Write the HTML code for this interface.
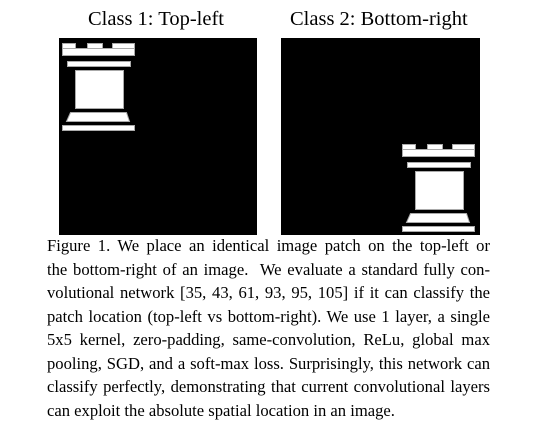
<!DOCTYPE html>
<html><head><meta charset="utf-8"><style>
body{margin:0;width:534px;height:443px;background:#fff;position:relative;overflow:hidden;font-family:"Liberation Serif",serif;color:#000}
.t{position:absolute;top:8px;font-size:20.5px;white-space:nowrap}
.cap{position:absolute;left:47px;top:234px;width:443px;font-size:16.6px;line-height:23.5px}
.ln{display:block;text-align:justify;text-align-last:justify;white-space:nowrap;height:23.5px}
.ln.last{text-align-last:left}
</style></head><body>
<div class="t" style="left:88px">Class 1: Top-left</div>
<div class="t" style="left:290px">Class 2: Bottom-right</div>
<svg width="534" height="240" style="position:absolute;left:0;top:0">
<defs><g id="rook" fill="#fff" stroke="#aaa" stroke-width="1">
<rect x="0.5" y="0.5" width="13" height="6"/><rect x="25.5" y="0.5" width="15" height="6"/><rect x="50.5" y="0.5" width="22" height="6"/>
<rect x="0.5" y="5.5" width="72" height="7"/>
<rect x="5.5" y="18.5" width="63" height="5"/>
<rect x="13.5" y="27.5" width="48" height="38"/>
<polygon points="8.5,69.5 64.5,69.5 67.5,78.5 4.5,78.5"/>
<rect x="0.5" y="82.5" width="72" height="5"/>
</g></defs>
<rect x="59" y="38" width="198" height="197" fill="#000"/>
<rect x="281" y="38" width="199" height="197" fill="#000"/>
<use href="#rook" x="62" y="43"/>
<use href="#rook" x="402" y="144"/>
</svg>
<div class="cap">
<span class="ln">Figure 1. We place an identical image patch on the top-left or</span>
<span class="ln">the bottom-right of an image. &nbsp;We evaluate a standard fully con-</span>
<span class="ln">volutional network [35, 43, 61, 93, 95, 105] if it can classify the</span>
<span class="ln">patch location (top-left vs bottom-right). We use 1 layer, a single</span>
<span class="ln">5x5 kernel, zero-padding, same-convolution, ReLu, global max</span>
<span class="ln">pooling, SGD, and a soft-max loss. Surprisingly, this network can</span>
<span class="ln">classify perfectly, demonstrating that current convolutional layers</span>
<span class="ln last">can exploit the absolute spatial location in an image.</span>
</div>
</body></html>
